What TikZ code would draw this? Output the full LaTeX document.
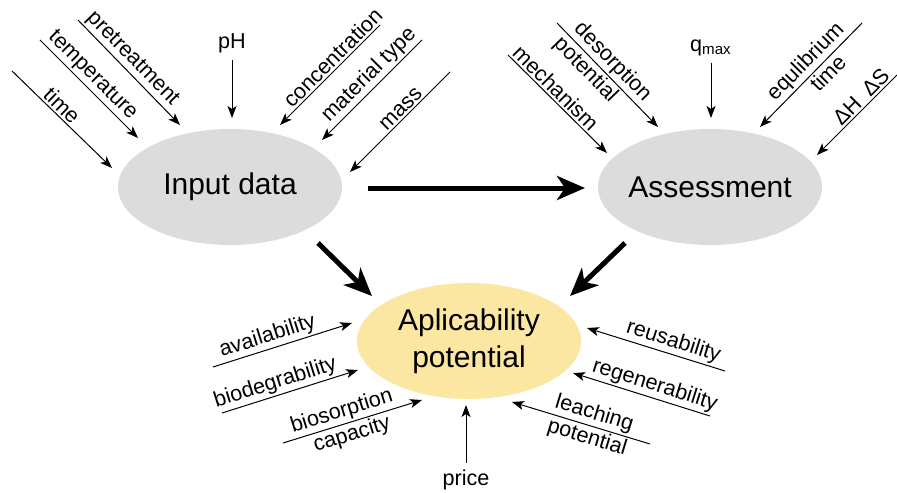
\documentclass[tikz,border=0pt]{standalone}
\usepackage{fontspec}
\setmainfont{Liberation Sans}
\usetikzlibrary{shapes.geometric, arrows.meta, positioning}
\definecolor{datagray}{HTML}{DCDCDC}
\definecolor{potyellow}{HTML}{FBE6A2}

\begin{document}
\begin{tikzpicture}[x=0.5pt, y=-0.5pt, node distance=240pt]
\tikzstyle{block} = [ellipse, minimum width=112pt, minimum height=58pt, inner xsep=-6pt, inner ysep=0pt, align=center, font=\fontsize{15}{18.5}\selectfont]
\tikzstyle{factor} = [-{Stealth[length=6pt, width=4.5pt, inset=1.5pt]}, line width=0.5pt]
\tikzstyle{flow} = [-{Stealth[length=14pt, width=12pt, inset=4pt]}, line width=2.5pt]
\tikzstyle{lbl} = [sloped, inner sep=1pt, font=\fontsize{10.8}{13}\selectfont]

\useasboundingbox (0,0) rectangle (897,492);

\node (input) [block, fill=datagray] at (230,187) {Input data};
\node (assess) [block, fill=datagray, right of=input] {Assessment};
\node (potential) [block, fill=potyellow] at (469,341) {Aplicability\\potential};

% main flow
\coordinate (in-r) at (368,188);   \coordinate (as-l) at (585,188);
\coordinate (in-b) at (318,243);   \coordinate (po-l) at (372,296);
\coordinate (as-b) at (625,243);   \coordinate (po-r) at (570,296);
\draw[flow] (in-r) -- (as-l);
\draw[flow] (in-b) -- (po-l);
\draw[flow] (as-b) -- (po-r);

% inputs of the input data
\coordinate (time-s) at (12,71);     \coordinate (time-e) at (112,168);
\coordinate (temp-s) at (40,40);     \coordinate (temp-e) at (138,138);
\coordinate (pret-s) at (78,20);     \coordinate (pret-e) at (180,125);
\coordinate (ph-s) at (232,60);      \coordinate (ph-e) at (232,118);
\coordinate (conc-s) at (380,25);    \coordinate (conc-e) at (280,125);
\coordinate (mat-s) at (422,40);     \coordinate (mat-e) at (322,140);
\coordinate (mass-s) at (450,72);    \coordinate (mass-e) at (350,172);
\draw[factor] (time-s) -- (time-e) node[lbl, pos=0.43, above] {time};
\draw[factor] (temp-s) -- (temp-e) node[lbl, pos=0.45, above] {temperature};
\draw[factor] (pret-s) -- (pret-e) node[lbl, pos=0.45, above] {pretreatment};
\draw[factor] (ph-s) -- (ph-e);
\node (ph) [above=0pt of ph-s, font=\fontsize{10.8}{13}\selectfont] {pH};
\draw[factor] (conc-s) -- (conc-e) node[lbl, pos=0.4, above] {concentration};
\draw[factor] (mat-s) -- (mat-e) node[lbl, pos=0.44, above] {material type};
\draw[factor] (mass-s) -- (mass-e) node[lbl, pos=0.43, above] {mass};

% inputs of the assessment
\coordinate (mech-s) at (508,55);    \coordinate (mech-e) at (607,153);
\coordinate (deso-s) at (557,23);    \coordinate (deso-e) at (658,127);
\coordinate (qmax-s) at (711,63);    \coordinate (qmax-e) at (711,118);
\coordinate (equi-s) at (862,23);    \coordinate (equi-e) at (760,127);
\coordinate (dhds-s) at (897,75);    \coordinate (dhds-e) at (817,155);
\draw[factor] (mech-s) -- (mech-e) node[lbl, pos=0.41, above] {mechanism};
\draw[factor] (deso-s) -- (deso-e) node[lbl, pos=0.46, above] {desorption}
                                   node[lbl, pos=0.37, below] {potential};
\draw[factor] (qmax-s) -- (qmax-e);
\node (qmax) [above=0pt of qmax-s, font=\fontsize{10.8}{13}\selectfont] {q\textsubscript{max}};
\draw[factor] (equi-s) -- (equi-e) node[lbl, pos=0.46, above] {equlibrium}
                                   node[lbl, pos=0.41, below] {time};
\draw[factor] (dhds-s) -- (dhds-e) node[lbl, pos=0.36, above] {ΔH\enspace ΔS};

% inputs of the aplicability potential
\coordinate (avai-s) at (213,367);   \coordinate (avai-e) at (352,323);
\coordinate (biod-s) at (222,413);   \coordinate (biod-e) at (358,370);
\coordinate (bios-s) at (283,443);   \coordinate (bios-e) at (422,400);
\coordinate (pric-s) at (466,463);   \coordinate (pric-e) at (466,405);
\coordinate (reus-s) at (725,371);   \coordinate (reus-e) at (587,328);
\coordinate (rege-s) at (710,416);   \coordinate (rege-e) at (573,373);
\coordinate (leac-s) at (650,444);   \coordinate (leac-e) at (512,402);
\draw[factor] (avai-s) -- (avai-e) node[lbl, pos=0.42, above] {availability};
\draw[factor] (biod-s) -- (biod-e) node[lbl, pos=0.42, above] {biodegrability};
\draw[factor] (bios-s) -- (bios-e) node[lbl, pos=0.45, above] {biosorption}
                                   node[lbl, pos=0.47, below] {capacity};
\draw[factor] (pric-s) -- (pric-e);
\node (price) [below=0pt of pric-s, font=\fontsize{10.8}{13}\selectfont] {price};
\draw[factor] (reus-s) -- (reus-e) node[lbl, pos=0.4, above] {reusability};
\draw[factor] (rege-s) -- (rege-e) node[lbl, pos=0.43, above] {regenerability};
\draw[factor] (leac-s) -- (leac-e) node[lbl, pos=0.43, above] {leaching}
                                   node[lbl, pos=0.43, below] {potential};

\end{tikzpicture}
\end{document}
